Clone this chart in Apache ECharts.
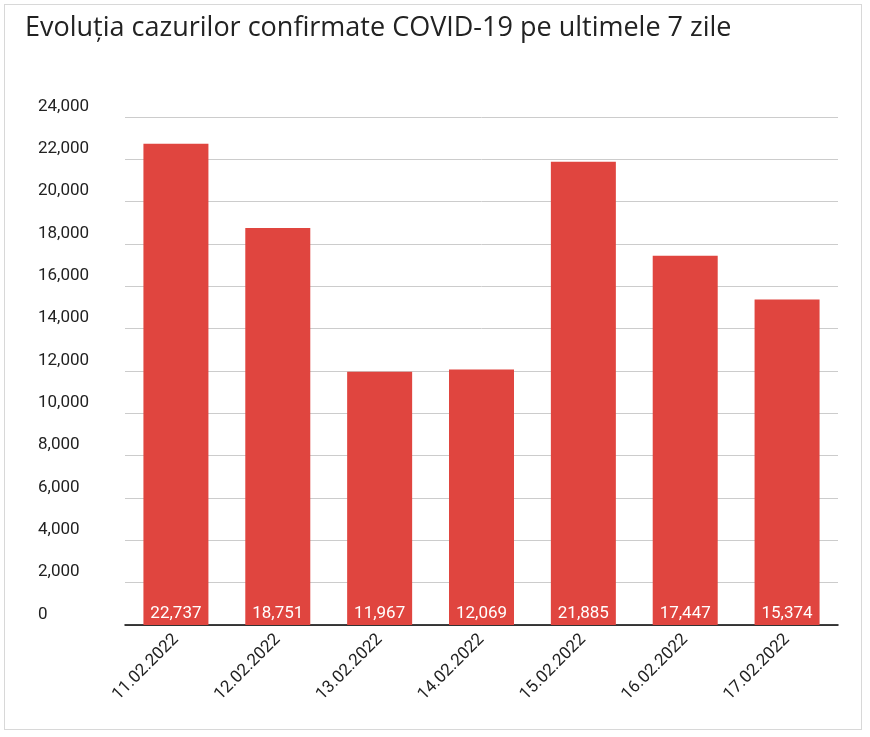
<!DOCTYPE html>
<html><head><meta charset="utf-8">
<script src="https://cdn.jsdelivr.net/npm/echarts@6/dist/echarts.min.js"></script>
<style>html,body{margin:0;padding:0;background:#fff}
#frame{position:absolute;left:4px;top:4px;width:856px;height:724px;border:1px solid #d8d8d8}
#c{position:absolute;left:0;top:0;width:870px;height:737px}</style>
</head><body><div id="frame"></div><div id="c"></div>
<script>
const categories=['11.02.2022','12.02.2022','13.02.2022','14.02.2022','15.02.2022','16.02.2022','17.02.2022'];
const values=[22737,18751,11967,12069,21885,17447,15374];
const title='Evoluția cazurilor confirmate COVID-19 pe ultimele 7 zile';
const chart=echarts.init(document.getElementById('c'));
chart.setOption({
  animation:false,
  title:{text:title,left:20,top:10,textStyle:{fontFamily:'Open Sans',fontSize:27,fontWeight:'normal',color:'#222'}},
  grid:{left:125,right:32,top:117,bottom:112},
  xAxis:{type:'category',data:categories,
    axisLine:{lineStyle:{color:'#000',width:1.5}},axisTick:{show:false},
    axisLabel:{rotate:45,color:'#222',fontFamily:'Roboto',fontSize:17,margin:12}},
  yAxis:{type:'value',min:0,max:24000,interval:2000,
    axisLabel:{align:'left',verticalAlign:'bottom',margin:87,padding:[0,0,2,0],color:'#222',fontFamily:'Roboto',fontSize:17,
      formatter:v=>v.toLocaleString('en-US')},
    splitLine:{lineStyle:{color:'#ccc'}}},
  series:[{type:'bar',data:values,barWidth:65,itemStyle:{color:'#e0453f'},
    label:{show:true,position:'insideBottom',distance:3,color:'#fff',fontFamily:'Roboto',fontSize:17,
      formatter:p=>p.value.toLocaleString('en-US')}}]
});
</script></body></html>
